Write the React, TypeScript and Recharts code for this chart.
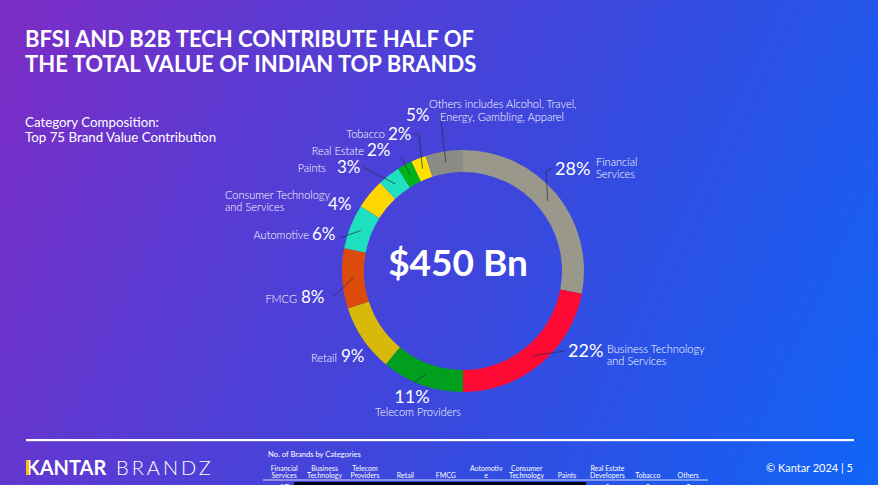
import React from 'react';
import { PieChart, Pie, Cell } from 'recharts';

// category shares of the top 75 brand value (%)
const categories = [
  'Financial Services',
  'Business Technology and Services',
  'Telecom Providers',
  'Retail',
  'FMCG',
  'Automotive',
  'Consumer Technology and Services',
  'Paints',
  'Real Estate',
  'Tobacco',
  'Others',
];
const shares = [28, 22, 11, 9, 8, 6, 4, 3, 2, 2, 5];
const colors = [
  '#9a978b', '#ff0a34', '#00a01e', '#d8b90a', '#dc4a0c', '#1ee0c0',
  '#ffd600', '#20e0c0', '#00b31a', '#ffe100', '#8c8c86',
];

// "No. of Brands by Categories" table
const tableHeaders = [
  ['Financial', 'Services'],
  ['Business', 'Technology'],
  ['Telecom', 'Providers'],
  ['', 'Retail'],
  ['', 'FMCG'],
  ['Automotiv', 'e'],
  ['Consumer', 'Technology'],
  ['', 'Paints'],
  ['Real Estate', 'Developers'],
  ['', 'Tobacco'],
  ['', 'Others'],
];
const brandCounts = [17, 7, 4, 7, 12, 9, 6, 3, 3, 2, 5];

const data = categories.map((name, i) => ({ name, value: shares[i] }));

const FONT = 'Lato, "Noto Sans", sans-serif';

type Txt = { t: string; x: number; y: number; a?: 'start' | 'middle' | 'end' };
interface LabelLayout {
  line: number[][];
  pct: Txt & { size?: number };
  names: Txt[];
}

// label placement for each slice (leader line starts on the ring)
const labelLayout: LabelLayout[] = [
  { line: [[546, 171], [552, 168]], pct: { t: '28%', x: 555, y: 175, size: 18 },
    names: [{ t: 'Financial', x: 596, y: 166 }, { t: 'Services', x: 596, y: 178 }] },
  { line: [[565, 351]], pct: { t: '22%', x: 568, y: 357, size: 18 },
    names: [{ t: 'Business Technology', x: 607, y: 353 }, { t: 'and Services', x: 607, y: 365 }] },
  { line: [[413, 383]], pct: { t: '11%', x: 412, y: 403, a: 'middle', size: 18 },
    names: [{ t: 'Telecom Providers', x: 418, y: 416, a: 'middle' }] },
  { line: [], pct: { t: '9%', x: 341, y: 362 },
    names: [{ t: 'Retail', x: 337, y: 362, a: 'end' }] },
  { line: [[333, 297]], pct: { t: '8%', x: 301, y: 303 },
    names: [{ t: 'FMCG', x: 297, y: 303, a: 'end' }] },
  { line: [[340, 238]], pct: { t: '6%', x: 312, y: 240 },
    names: [{ t: 'Automotive', x: 309, y: 239, a: 'end' }] },
  { line: [], pct: { t: '4%', x: 328, y: 210 },
    names: [{ t: 'Consumer Technology', x: 225, y: 199 }, { t: 'and Services', x: 225, y: 211 }] },
  { line: [[363, 167]], pct: { t: '3%', x: 337, y: 173 },
    names: [{ t: 'Paints', x: 326, y: 172, a: 'end' }] },
  { line: [[401, 157]], pct: { t: '2%', x: 367, y: 156 },
    names: [{ t: 'Real Estate', x: 364, y: 155, a: 'end' }] },
  { line: [[419, 134], [413, 134]], pct: { t: '2%', x: 388, y: 140 },
    names: [{ t: 'Tobacco', x: 385, y: 138, a: 'end' }] },
  { line: [[441, 120], [444, 119]], pct: { t: '5%', x: 406, y: 121 },
    names: [{ t: 'Others includes Alcohol, Travel,', x: 429, y: 108 }, { t: 'Energy, Gambling, Apparel', x: 440, y: 121 }] },
];

const renderLabel = (props: any) => {
  const { cx, cy, midAngle, innerRadius, outerRadius, index } = props;
  const lay = labelLayout[index];
  if (!lay) return null;
  const RAD = Math.PI / 180;
  const r = (innerRadius + outerRadius) / 2;
  const sx = cx + r * Math.cos(-midAngle * RAD);
  const sy = cy + r * Math.sin(-midAngle * RAD);
  const pts = [[sx, sy], ...lay.line];
  return (
    <g key={`lbl-${index}`}>
      {lay.line.length > 0 && (
        <polyline
          points={pts.map((p) => p.join(',')).join(' ')}
          fill="none"
          stroke="#2a2a50"
          strokeWidth={0.7}
        />
      )}
      <text x={lay.pct.x} y={lay.pct.y} textAnchor={lay.pct.a || 'start'} fill="#fff"
        fontFamily={FONT} fontSize={lay.pct.size || 17}>
        {lay.pct.t}
      </text>
      {lay.names.map((n, j) => (
        <text key={j} x={n.x} y={n.y} textAnchor={n.a || 'start'} fill="#fff"
          fontFamily={FONT} fontSize={11} fontWeight={300}>
          {n.t}
        </text>
      ))}
    </g>
  );
};

const colStart = 264;
const colWidth = 40.4;

export default function App() {
  return (
    <div
      style={{
        position: 'relative',
        width: 878,
        height: 485,
        overflow: 'hidden',
        background:
          'linear-gradient(115deg, #7d2cc5 0%, #5a3bd3 28%, #3c47dc 55%, #2555e9 78%, #0f65f7 100%)',
        fontFamily: FONT,
      }}
    >
      <style>{'body{margin:0}'}</style>
      <svg width={878} height={485} style={{ position: 'absolute', left: 0, top: 0 }}>
        <text x={25} y={47} fill="#fff" fontSize={22} fontWeight={700} fontFamily={FONT}>
          BFSI AND B2B TECH CONTRIBUTE HALF OF
        </text>
        <text x={25} y={72} fill="#fff" fontSize={22} fontWeight={700} fontFamily={FONT}>
          THE TOTAL VALUE OF INDIAN TOP BRANDS
        </text>
        <text x={25} y={127} fill="#fff" fontSize={13.3} fontFamily={FONT}>
          Category Composition:
        </text>
        <text x={25} y={142} fill="#fff" fontSize={13.3} fontFamily={FONT}>
          Top 75 Brand Value Contribution
        </text>

        <text x={458} y={276} textAnchor="middle" fill="#fff" fontSize={37} fontWeight={700} fontFamily={FONT}>
          $450 Bn
        </text>

        {/* footer */}
        <rect x={26} y={439} width={828} height={2.2} fill="#fff" />
        <text x={26} y={475} fill="#fff" fontSize={20} fontWeight={700} fontFamily={FONT}>
          KANTAR
        </text>
        <rect x={26} y={460} width={3} height={15} fill="#f2c200" />
        <text x={116} y={475} fill="#fff" fontSize={20} fontWeight={300} letterSpacing={3} fontFamily={FONT}>
          BRANDZ
        </text>
        <text x={853} y={472} textAnchor="end" fill="#fff" fontSize={11} fontFamily={FONT}>
          © Kantar 2024 | 5
        </text>

        {/* brand counts table */}
        <text x={268} y={457} fill="#fff" fontSize={7.6} fontFamily={FONT}>
          No. of Brands by Categories
        </text>
        {tableHeaders.map((h, i) => {
          const x = colStart + (i + 0.5) * colWidth;
          return (
            <g key={i}>
              {h[0] && (
                <text x={x} y={470.5} textAnchor="middle" fill="#fff" fontSize={7} fontFamily={FONT}>
                  {h[0]}
                </text>
              )}
              <text x={x} y={478} textAnchor="middle" fill="#fff" fontSize={7} fontFamily={FONT}>
                {h[1]}
              </text>
              <text x={x} y={490} textAnchor="middle" fill="#fff" fontSize={8} fontFamily={FONT}>
                {brandCounts[i]}
              </text>
            </g>
          );
        })}
        <line x1={263} x2={708} y1={480} y2={480} stroke="#fff" strokeWidth={0.8} />
        <rect x={294} y={482} width={292} height={4} fill="#05051a" />
      </svg>

      <div style={{ position: 'absolute', left: 0, top: 0 }}>
        <PieChart width={878} height={485}>
          <Pie
            data={data}
            dataKey="value"
            nameKey="name"
            cx={458}
            cy={266}
            innerRadius={99}
            outerRadius={121}
            startAngle={90}
            endAngle={-270}
            stroke="none"
            label={renderLabel}
            labelLine={false}
            isAnimationActive={false}
          >
            {data.map((d, i) => (
              <Cell key={d.name} fill={colors[i]} />
            ))}
          </Pie>
        </PieChart>
      </div>
    </div>
  );
}
